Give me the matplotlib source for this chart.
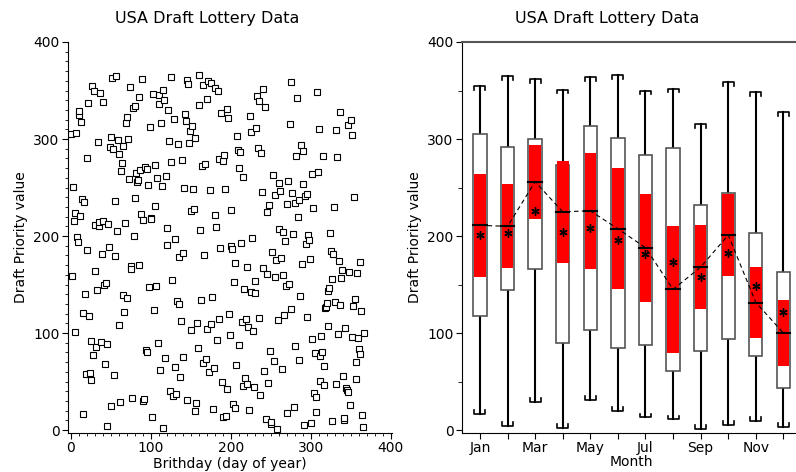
import numpy as np
import matplotlib
matplotlib.use('Agg')
import matplotlib.pyplot as plt
from matplotlib.ticker import MultipleLocator

plt.rcParams['font.family'] = ['DejaVu Sans']

# 1970 draft lottery, priority number by birthday
jan = [305, 159, 251, 215, 101, 224, 306, 199, 194, 325, 329, 221, 318, 238, 17, 121,
       235, 140, 58, 280, 186, 337, 118, 59, 52, 92, 355, 77, 349, 164, 211]
feb = [86, 144, 297, 210, 214, 347, 91, 181, 338, 216, 150, 68, 152, 4, 89, 212,
       189, 292, 25, 302, 363, 290, 57, 236, 179, 365, 205, 299, 285]
mar = [108, 29, 267, 275, 293, 139, 122, 213, 317, 323, 136, 300, 259, 354, 169, 166,
       33, 332, 200, 239, 334, 265, 256, 258, 343, 170, 268, 223, 362, 217, 30]
apr = [32, 271, 83, 81, 269, 253, 147, 312, 219, 218, 14, 346, 124, 231, 273, 148,
       260, 90, 336, 345, 62, 316, 252, 2, 351, 340, 74, 262, 191, 208]
may = [330, 298, 40, 276, 364, 155, 35, 321, 197, 65, 37, 133, 295, 178, 130, 55,
       112, 278, 75, 183, 250, 326, 319, 31, 361, 357, 296, 308, 226, 103, 313]
jun = [249, 228, 301, 20, 28, 110, 85, 366, 335, 206, 134, 272, 69, 356, 180, 274,
       73, 341, 104, 360, 60, 247, 109, 358, 137, 22, 64, 222, 353, 209]
jul = [93, 350, 115, 279, 188, 327, 50, 13, 277, 284, 248, 15, 42, 331, 322, 120,
       98, 190, 227, 187, 27, 153, 172, 23, 67, 303, 289, 88, 270, 287, 193]
aug = [111, 45, 261, 145, 54, 114, 168, 48, 106, 21, 324, 142, 307, 198, 102, 44,
       154, 141, 311, 344, 291, 339, 116, 36, 286, 245, 352, 167, 61, 333, 11]
sep = [225, 161, 49, 232, 82, 6, 8, 184, 263, 71, 158, 242, 175, 1, 113, 207,
       255, 246, 177, 63, 204, 160, 119, 195, 149, 18, 233, 257, 151, 315]
octo = [359, 125, 244, 202, 24, 87, 234, 283, 342, 220, 237, 72, 138, 294, 171, 254,
        288, 5, 241, 192, 243, 117, 201, 196, 176, 7, 264, 94, 229, 38, 79]
nov = [19, 34, 348, 266, 310, 76, 51, 97, 80, 282, 46, 66, 126, 127, 131, 107,
       143, 146, 203, 185, 156, 9, 182, 230, 132, 309, 47, 281, 99, 174]
dec = [129, 328, 157, 165, 56, 10, 12, 105, 43, 41, 39, 314, 163, 26, 320, 96,
       304, 128, 240, 135, 70, 53, 162, 95, 84, 173, 78, 123, 16, 3, 100]

months = [jan, feb, mar, apr, may, jun, jul, aug, sep, octo, nov, dec]
month_names = ['Jan', 'Feb', 'Mar', 'Apr', 'May', 'Jun',
               'Jul', 'Aug', 'Sep', 'Oct', 'Nov', 'Dec']

draft = np.concatenate(months)
day = np.arange(1, len(draft) + 1)

fig = plt.figure(figsize=(7.96, 4.72), dpi=100)

# --- scatter
ax = fig.add_axes([68/796, 1-433/472, (392-68)/796, (433-42)/472])
ax.plot(day, draft, 's', mfc='white', mec='black', ms=4.6, mew=0.8)
ax.set_xlim(-3.3, 401.6)
ax.set_ylim(-3, 400)
ax.spines['top'].set_visible(False)
ax.spines['right'].set_visible(False)
ax.set_xticks([0, 100, 200, 300, 400])
ax.set_yticks([0, 100, 200, 300, 400])
ax.xaxis.set_minor_locator(MultipleLocator(10))
ax.yaxis.set_minor_locator(MultipleLocator(10))
ax.tick_params(which='major', length=4, labelsize=10, pad=2)
ax.tick_params(which='minor', length=2)
ax.set_xlabel('Brithday (day of year)', fontsize=10, labelpad=1)
ax.set_ylabel('Draft Priority value', fontsize=10, labelpad=4)
fig.text(207/796, 1-18/472, 'USA Draft Lottery Data', ha='center', va='center', fontsize=11.5)

# --- box plots by month
bx = fig.add_axes([462/796, 1-433/472, (800-462)/796, (433-42)/472])
pos = np.arange(1, 13)
w = 0.24
meds = []
for i, vals in enumerate(months):
    v = np.array(vals)
    x = pos[i]
    q1, med, q3 = np.percentile(v, [25, 50, 75], method='averaged_inverted_cdf')
    lo, hi = v.min(), v.max()
    notch = 1.58 * (q3 - q1) / np.sqrt(len(v))
    meds.append(med)
    # moustaches et chapeaux
    bx.plot([x, x], [lo, q1], color='black', lw=1.5, zorder=2)
    bx.plot([x, x], [q3, hi], color='black', lw=1.5, zorder=2)
    cw, cd = 0.2, 4
    bx.plot([x-cw, x-cw, x+cw, x+cw], [hi-cd, hi, hi, hi-cd], color='black', lw=1.2, zorder=2)
    bx.plot([x-cw, x-cw, x+cw, x+cw], [lo+cd, lo, lo, lo+cd], color='black', lw=1.2, zorder=2)
    # boite + encoche rouge
    bx.add_patch(plt.Rectangle((x-w, q1), 2*w, q3-q1, facecolor='white',
                               edgecolor='#555555', lw=1.2, zorder=3))
    bx.add_patch(plt.Rectangle((x-w+0.03, med-notch), 2*w-0.06, 2*notch,
                               facecolor='red', edgecolor='none', zorder=4))
    bx.plot([x-w, x+w], [med, med], color='black', lw=1.5, zorder=5)
    bx.plot([x], [v.mean()], marker=(6, 2, 0), color='black', ms=6, mew=1, zorder=6)

bx.plot(pos, meds, '--', color='black', lw=0.8, dashes=(4, 3), zorder=5)
bx.set_xlim(0.35, 12.6)
bx.set_ylim(-3, 400)
bx.set_xticks(pos)
bx.set_xticklabels([m if i % 2 == 0 else '' for i, m in enumerate(month_names)])
bx.set_yticks([0, 100, 200, 300, 400])
bx.yaxis.set_minor_locator(MultipleLocator(50))
bx.tick_params(which='major', length=4, labelsize=10, pad=2)
bx.tick_params(which='minor', length=3)
bx.spines['top'].set_color('#555555')
bx.spines['top'].set_linewidth(1.5)
bx.set_xlabel('Month', fontsize=10, labelpad=0)
bx.set_ylabel('Draft Priority value', fontsize=10, labelpad=4)
fig.text(607/796, 1-18/472, 'USA Draft Lottery Data', ha='center', va='center', fontsize=11.5)

fig.savefig('out.png', dpi=100)
